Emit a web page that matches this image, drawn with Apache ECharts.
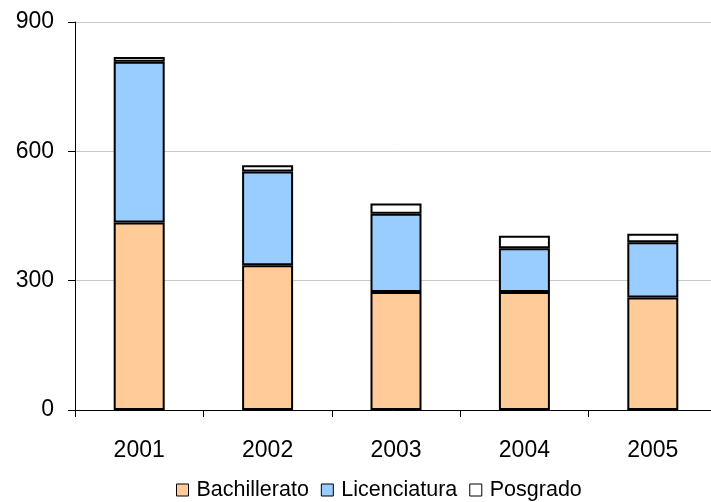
<!DOCTYPE html>
<html>
<head>
<meta charset="utf-8">
<script src="https://cdn.jsdelivr.net/npm/echarts@6/dist/echarts.min.js"></script>
<style>
html,body{margin:0;padding:0;background:#fff;}
#chart{width:711px;height:502px;}
</style>
</head>
<body>
<div id="chart"></div>
<script>
const categories = ['2001', '2002', '2003', '2004', '2005'];
const bachillerato = [435, 336, 274, 274, 261];
const licenciatura = [373, 217, 181, 101, 128];
const posgrado = [11, 15, 24, 29, 20];
const yTicks = [0, 300, 600, 900];

const chart = echarts.init(document.getElementById('chart'), null, {renderer: 'canvas'});
const font = 'Liberation Sans, Arial, sans-serif';
function barSeries(name, data, color) {
  return {
    name: name,
    type: 'bar',
    stack: 'total',
    data: data,
    barWidth: 51,
    itemStyle: {color: color, borderColor: '#000', borderWidth: 2},
    emphasis: {disabled: true}
  };
}
chart.setOption({
  animation: false,
  backgroundColor: '#fff',
  grid: {left: 75, top: 22, bottom: 92, right: -6, containLabel: false, outerBoundsMode: 'none'},
  legend: {
    bottom: 1,
    left: 176,
    padding: 0,
    itemWidth: 12,
    itemHeight: 12,
    itemGap: 12,
    icon: 'rect',
    itemStyle: {borderWidth: 1, borderColor: '#000'},
    textStyle: {fontFamily: font, fontSize: 21.5, color: '#000', padding: [0, 0, 0, 3]},
    data: ['Bachillerato', 'Licenciatura', 'Posgrado']
  },
  xAxis: {
    type: 'category',
    data: categories,
    axisLine: {lineStyle: {color: '#000', width: 1}},
    axisTick: {show: true, length: 7, lineStyle: {color: '#000'}},
    axisLabel: {fontFamily: font, fontSize: 23, color: '#000', margin: 29}
  },
  yAxis: {
    type: 'value',
    min: yTicks[0],
    max: yTicks[yTicks.length - 1],
    interval: yTicks[1] - yTicks[0],
    axisLine: {show: true, lineStyle: {color: '#000', width: 1}},
    axisTick: {show: true, length: 7, lineStyle: {color: '#000'}},
    splitLine: {lineStyle: {color: '#c8c8c8', width: 1}},
    axisLabel: {fontFamily: font, fontSize: 23, color: '#000', margin: 21}
  },
  series: [
    barSeries('Bachillerato', bachillerato, '#FFCC99'),
    barSeries('Licenciatura', licenciatura, '#99CCFF'),
    barSeries('Posgrado', posgrado, '#FFFFFF')
  ]
});
</script>
</body>
</html>
